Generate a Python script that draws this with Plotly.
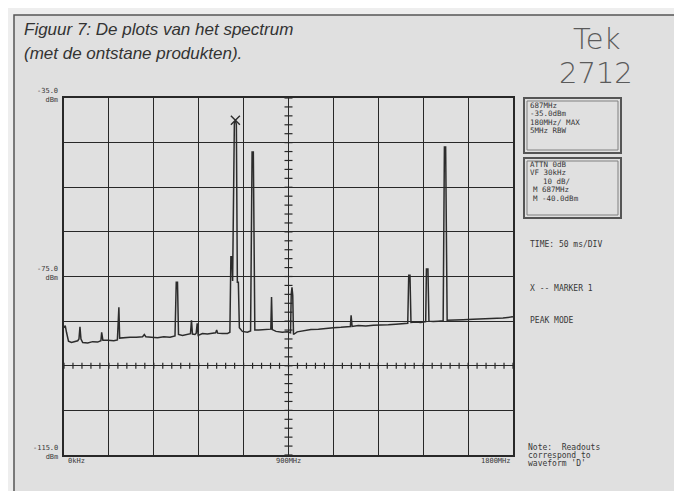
import plotly.graph_objects as go

# ---------------- data ----------------
freq_mhz = [0, 5, 10, 18, 30, 45, 55, 60, 64, 68, 75, 95, 115, 135, 148, 151, 156, 175, 200,
            214, 217, 220, 223, 240, 265, 290, 315, 322, 328, 350, 375, 400, 425, 445, 450, 455,
            459, 475, 495, 507, 511, 515, 525, 530, 534, 538, 555, 575, 595, 608, 612, 616, 635,
            655, 665, 669, 673, 676, 683, 688, 691, 695, 699, 703, 715, 735, 748, 754, 759, 765,
            780, 800, 820, 829, 832, 835, 850, 875, 895, 908, 911, 914, 917, 920, 935, 960, 990,
            1020, 1050, 1080, 1110, 1140, 1148, 1151, 1155, 1180, 1210, 1240, 1270, 1300, 1330,
            1360, 1378, 1382, 1387, 1391, 1410, 1430, 1450, 1453, 1459, 1463, 1480, 1500, 1520,
            1525, 1530, 1536, 1560, 1600, 1640, 1680, 1720, 1760, 1790, 1800]
level_dbm = [-86.5, -86.0, -87.5, -89.5, -89.8, -89.6, -89.4, -89.0, -86.3, -89.0, -89.8, -89.9,
             -89.6, -89.7, -89.4, -87.5, -89.3, -89.3, -89.4, -89.2, -81.9, -81.9, -88.8, -88.7,
             -88.6, -88.6, -88.5, -88.0, -88.5, -88.6, -88.7, -88.5, -88.6, -88.3, -76.3, -76.3,
             -88.0, -88.2, -88.0, -87.8, -84.8, -87.9, -88.0, -87.7, -85.5, -88.2, -87.8, -87.9,
             -87.7, -87.6, -87.0, -87.7, -87.8, -87.8, -87.5, -70.6, -70.6, -76.0, -40.5, -40.0,
             -41.0, -76.3, -76.3, -86.5, -87.3, -87.5, -87.2, -47.1, -47.1, -87.0, -87.0, -86.9,
             -86.9, -86.8, -79.6, -86.9, -87.3, -87.5, -87.4, -87.6, -79.0, -77.4, -79.2, -88.0,
             -87.4, -87.1, -86.9, -86.8, -86.6, -86.5, -86.4, -86.3, -86.2, -83.7, -86.2, -86.0,
             -86.1, -85.9, -85.9, -85.8, -85.7, -85.6, -85.5, -74.7, -74.7, -85.3, -85.2, -85.3,
             -85.1, -73.3, -73.3, -85.0, -85.1, -85.0, -84.9, -46.0, -46.0, -84.8, -84.8, -84.7,
             -84.6, -84.5, -84.5, -84.3, -84.1, -84.0]
marker_freq = [687]
marker_level = [-40.0]

y_tick_vals = [-35, -75, -115]
y_tick_text = ["-35.0", "-75.0", "-115.0"]
x_tick_vals = [0, 900, 1800]
x_tick_text = ["0kHz", "900MHz", "1800MHz"]

title_lines = ["Figuur 7: De plots van het spectrum", "(met de ontstane produkten)."]
brand_lines = ["Tek", "2712"]
box1_lines = ["687MHz", "-35.0dBm", "180MHz/ MAX", "5MHz RBW"]
box2_lines = ["ATTN 0dB", "VF 30kHz", "10 dB/", "M 687MHz", "M -40.0dBm"]
status_lines = ["TIME: 50 ms/DIV", "X -- MARKER 1", "PEAK MODE"]
note_lines = ["Note:  Readouts", "correspond to", "waveform 'D'"]

# ---------------- layout geometry (pixels) ----------------
W, H = 682, 491
L, R, T, B = 56, 505, 90, 447


def px(x):
    return (x - L) / (R - L)


def py(y):
    return (B - y) / (B - T)


INK = "#282828"
BG = "#e0e0e0"
MONO = "DejaVu Sans Mono"

fig = go.Figure()
fig.add_trace(go.Scatter(x=freq_mhz, y=level_dbm, mode="lines",
                         line=dict(color="#2c2c2c", width=1.5), hoverinfo="skip",
                         showlegend=False))
fig.add_trace(go.Scatter(x=marker_freq, y=marker_level, mode="markers",
                         marker=dict(symbol="x-thin", size=9,
                                     line=dict(color="#2c2c2c", width=1.4)),
                         showlegend=False, hoverinfo="skip"))

shapes = []
# outer frame
shapes.append(dict(type="rect", xref="paper", yref="paper", x0=px(6), x1=px(700),
                   y0=py(7), y1=py(510), line=dict(color="#555555", width=1.5),
                   fillcolor=BG, layer="below"))
# center ticks on vertical 900 MHz line (every 2 dB)
for k in range(41):
    v = -115 + 2 * k
    shapes.append(dict(type="line", xref="x", yref="y", xsizemode="pixel", xanchor=900,
                       x0=-4, x1=4, y0=v, y1=v, line=dict(color=INK, width=1.2)))
# ticks on the -95 dBm horizontal line (every 36 MHz)
for k in range(51):
    v = 36 * k
    shapes.append(dict(type="line", xref="x", yref="y", ysizemode="pixel", yanchor=-95,
                       y0=-3, y1=3, x0=v, x1=v, line=dict(color=INK, width=1.2)))
# readout boxes (double border)
for (x0, y0, x1, y1) in [(516, 90, 613, 145), (516, 150, 613, 210)]:
    shapes.append(dict(type="rect", xref="paper", yref="paper", x0=px(x0), x1=px(x1),
                       y0=py(y0), y1=py(y1), line=dict(color="#555555", width=2)))
    shapes.append(dict(type="rect", xref="paper", yref="paper", x0=px(x0 + 3), x1=px(x1 - 3),
                       y0=py(y0 + 3), y1=py(y1 - 3), line=dict(color="#808080", width=1)))

ann = []


def text(t, x, y, size, anchor="left", family=MONO, color="#383838", italic=False):
    ann.append(dict(text=t, x=px(x), y=py(y), xref="paper", yref="paper", showarrow=False,
                    xanchor=anchor, yanchor="middle",
                    font=dict(family=family, size=size, color=color,
                              style="italic" if italic else "normal")))


# title
text(title_lines[0], 14, 21, 17, family="Liberation Sans", color="#333333", italic=True)
text(title_lines[1], 14, 45, 17, family="Liberation Sans", color="#333333", italic=True)
# brand
for t, yy in zip(brand_lines, [31, 65]):
    ann.append(dict(text=t, x=px(588), y=py(yy), xref="paper", yref="paper",
                    showarrow=False, xanchor="center", yanchor="middle",
                    font=dict(family="DejaVu Sans", size=29, color="#5a5a5a", weight=200)))

# y tick labels
for v, t in zip(y_tick_vals, y_tick_text):
    ann.append(dict(text=t + "<br>dBm", x=0, xref="paper", y=v, yref="y", showarrow=False,
                    xanchor="right", yanchor="middle", align="right", xshift=-4, yshift=3,
                    font=dict(family=MONO, size=7, color="#383838")))
# x tick labels
x_anchor = ["left", "center", "right"]
for v, t, a in zip(x_tick_vals, x_tick_text, x_anchor):
    ann.append(dict(text=t, x=v, xref="x", y=0, yref="paper", showarrow=False,
                    xanchor=a, yanchor="top", yshift=0, xshift=(2 if a == "left" else 0),
                    font=dict(family=MONO, size=7, color="#383838")))

# readouts
for i, t in enumerate(box1_lines):
    text(t, 520, 97 + 8.6 * i, 7.5)
box2_x = [520, 520, 533, 523, 523]
for i, t in enumerate(box2_lines):
    text(t, box2_x[i], 156 + 8.6 * i, 7.5)
text(status_lines[0], 520, 236, 8)
text(status_lines[1], 520, 280, 8)
text(status_lines[2], 520, 312, 8)
for i, t in enumerate(note_lines):
    text(t, 518, 439 + 8.4 * i, 8)

fig.update_layout(
    width=W, height=H,
    margin=dict(l=L, r=W - R, t=T, b=H - B, pad=0),
    paper_bgcolor="#eeeeee",
    plot_bgcolor="rgba(0,0,0,0)",
    shapes=shapes,
    annotations=ann,
    xaxis=dict(range=[0, 1800], tick0=0, dtick=180, showgrid=True, gridcolor=INK,
               gridwidth=1.4, zeroline=False, showline=True, mirror=True, linecolor=INK,
               linewidth=1.6, showticklabels=False, ticks="", fixedrange=True),
    yaxis=dict(range=[-115, -35], tick0=-115, dtick=10, showgrid=True, gridcolor=INK,
               gridwidth=1.4, zeroline=False, showline=True, mirror=True, linecolor=INK,
               linewidth=1.6, showticklabels=False, ticks="", fixedrange=True),
)

fig.write_html("out.html")
